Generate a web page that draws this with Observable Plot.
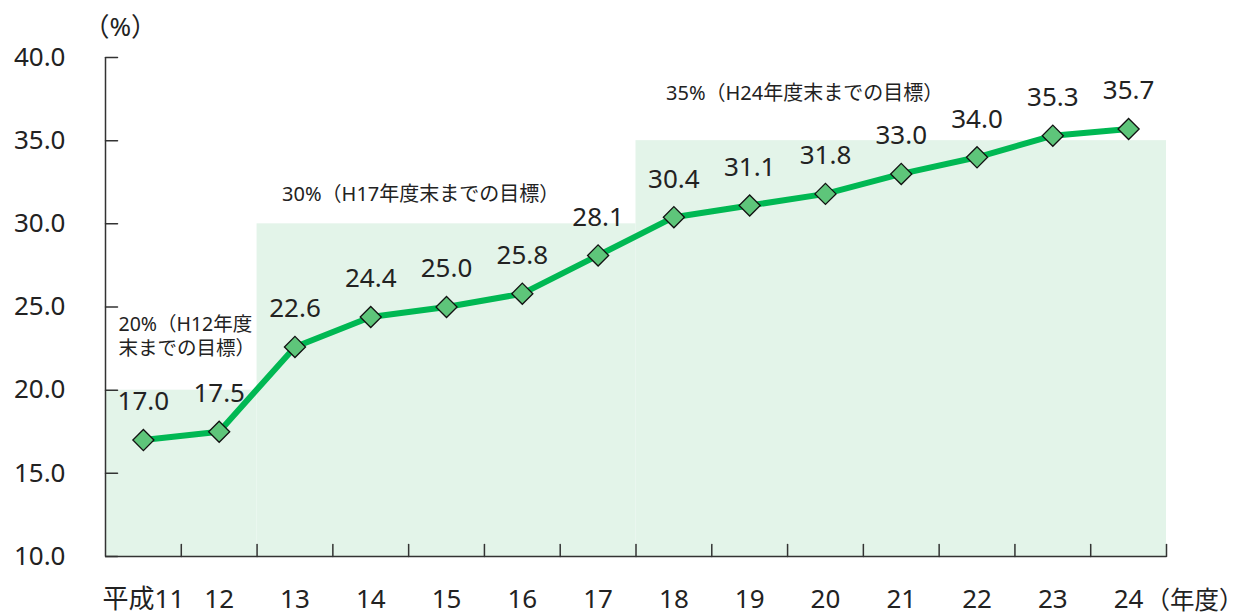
<!DOCTYPE html>
<html><head><meta charset="utf-8">
<script src="https://cdn.jsdelivr.net/npm/d3@7"></script>
<script src="https://cdn.jsdelivr.net/npm/@observablehq/plot@0.6"></script>
<style>
html,body{margin:0;padding:0;background:#fff;}
svg{font-family:"Noto Sans","Noto Sans CJK JP",sans-serif;}
</style>
</head><body><div id="chart"></div>
<script>
const years = [11,12,13,14,15,16,17,18,19,20,21,22,23,24];
const values = [17.0,17.5,22.6,24.4,25.0,25.8,28.1,30.4,31.1,31.8,33.0,34.0,35.3,35.7];
const yTicks = [10,15,20,25,30,35,40];
const targetValues = [20,30,35];
const targetStart = [11,13,18];
const targetEnd = [12,17,24];
const targetLabels = ["20%（H12年度\n末までの目標）","30%（H17年度末までの目標）","35%（H24年度末までの目標）"];
const eraPrefix = "平成";
const yUnit = "（%）";
const xUnit = "（年度）";

const data = years.map((y,i)=>({year:y, value:values[i]}));
const targets = targetValues.map((v,i)=>({v, x1:targetStart[i]-0.5, x2:targetEnd[i]+0.5, label:targetLabels[i]}));
const boundaries = years.map(y=>y+0.5);
const tickShape = {draw(ctx,l){ctx.moveTo(0,0);ctx.lineTo(0,-l);}};
const axisColor = "#333";
const font = '"Noto Sans","Noto Sans CJK JP",sans-serif';

const chart = Plot.plot({
  width:1243, height:615,
  marginLeft:105, marginRight:77, marginTop:57, marginBottom:59,
  x:{type:"linear", domain:[years[0]-0.5, years[years.length-1]+0.5]},
  y:{domain:[yTicks[0], yTicks[yTicks.length-1]]},
  style:{fontFamily:font, color:"#222", background:"#fff"},
  marks:[
    Plot.rectY(targets,{x1:"x1",x2:"x2",y1:yTicks[0],y2:"v",fill:"#e3f4e9"}),
    Plot.ruleX([years[0]-0.5],{y1:yTicks[0],y2:yTicks[yTicks.length-1],stroke:axisColor,strokeWidth:1.5}),
    Plot.ruleY([yTicks[0]],{x1:years[0]-0.5,x2:years[years.length-1]+0.5,stroke:axisColor,strokeWidth:1.5}),
    Plot.vector(yTicks,{y:d=>d,frameAnchor:"left",rotate:90,length:12,anchor:"start",shape:tickShape,stroke:axisColor,strokeWidth:1.5}),
    Plot.vector(boundaries,{x:d=>d,frameAnchor:"bottom",rotate:0,length:12,anchor:"start",shape:tickShape,stroke:axisColor,strokeWidth:1.5}),
    Plot.axisY({ticks:yTicks,tickSize:0,tickPadding:40,tickFormat:d=>d.toFixed(1),fontSize:26,label:null}),
    Plot.axisX({ticks:years,tickSize:0,tickPadding:33,tickFormat:(d,i)=>i===0?eraPrefix+d:String(d),fontSize:26,label:null}),
    Plot.text([xUnit],{frameAnchor:"bottom-right",dx:77,dy:45,textAnchor:"end",lineAnchor:"middle",fontSize:24.5}),
    Plot.text([yUnit],{frameAnchor:"top-left",dx:-22,dy:-30,textAnchor:"start",lineAnchor:"middle",fontSize:26}),
    Plot.line(data,{x:"year",y:"value",stroke:"#00b853",strokeWidth:6}),
    Plot.dot(data,{x:"year",y:"value",symbol:"diamond2",r:9.5,fill:"#5ec57a",stroke:"#111",strokeWidth:1.3}),
    Plot.text(data,{x:"year",y:"value",text:d=>d.value.toFixed(1),dy:-38,fontSize:26,lineAnchor:"middle"}),
    Plot.text([targets[0]],{x:"x1",y:"v",text:"label",textAnchor:"start",lineAnchor:"bottom",dx:13,dy:-35,fontSize:19.5,lineHeight:1.25}),
    Plot.text([targets[1]],{x:"x1",y:"v",text:"label",textAnchor:"start",lineAnchor:"middle",dx:25,dy:-29,fontSize:20}),
    Plot.text([targets[2]],{x:"x1",y:"v",text:"label",textAnchor:"start",lineAnchor:"middle",dx:30,dy:-47,fontSize:20})
  ]
});
document.getElementById("chart").appendChild(chart);
</script></body></html>
